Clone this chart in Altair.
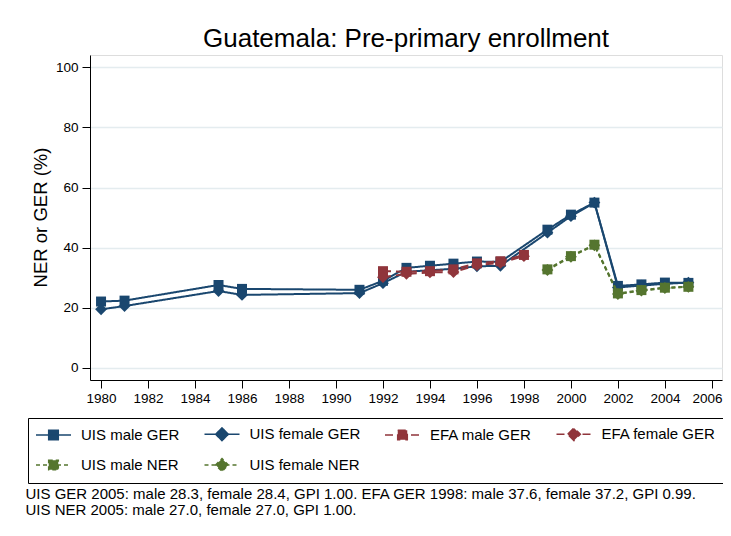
import altair as alt
import pandas as pd

# ---- data ----
years_uis_ger = [1980, 1981, 1985, 1986, 1991, 1992, 1993, 1994, 1995, 1996, 1997,
                 1999, 2000, 2001, 2002, 2003, 2004, 2005]
uis_male_ger = [22.1, 22.4, 27.6, 26.3, 26.0, 29.0, 33.3, 34.0, 34.7, 35.4, 35.3,
                46.0, 51.0, 55.0, 27.3, 27.8, 28.4, 28.3]
uis_female_ger = [19.5, 20.6, 25.6, 24.3, 24.9, 28.2, 32.0, 32.5, 33.0, 33.8, 34.0,
                  45.0, 50.5, 55.0, 26.8, 27.4, 28.0, 28.4]

years_efa = [1992, 1993, 1994, 1995, 1996, 1997, 1998]
efa_male_ger = [32.2, 32.0, 32.2, 32.8, 34.8, 35.5, 37.6]
efa_female_ger = [30.2, 31.3, 31.8, 31.9, 34.2, 35.0, 37.2]

years_ner = [1999, 2000, 2001, 2002, 2003, 2004, 2005]
uis_male_ner = [32.8, 37.2, 41.0, 24.8, 25.9, 26.7, 27.0]
uis_female_ner = [32.6, 37.0, 40.8, 24.6, 25.7, 26.6, 27.0]

series_names = ["UIS male GER", "UIS female GER", "EFA male GER",
                "EFA female GER", "UIS male NER", "UIS female NER"]
x_ticks = list(range(1980, 2007, 2))
y_ticks = [0, 20, 40, 60, 80, 100]
title_text = "Guatemala: Pre-primary enrollment"
y_title = "NER or GER (%)"
note_lines = [
    "UIS GER 2005: male 28.3, female 28.4, GPI 1.00. EFA GER 1998: male 37.6, female 37.2, GPI 0.99.",
    "UIS NER 2005: male 27.0, female 27.0, GPI 1.00.",
]

# ---- styles ----
colors = ["#1a476f", "#1a476f", "#90353b", "#90353b", "#55752f", "#55752f"]
dashes = [[1, 0], [1, 0], [8, 5], [8, 5], [4, 3], [4, 3]]
shapes = ["square", "diamond", "square", "diamond", "square", "diamond"]
sizes = [100, 140, 100, 140, 100, 140]
sq_path = "M-2.5,0H2.5M-0.68,-0.68H0.68V0.68H-0.68Z"
dm_path = "M-2.5,0H2.5M-0.9,0L0,-0.9L0.9,0L0,0.9Z"
legend_paths = [sq_path, dm_path, sq_path, dm_path, sq_path, dm_path]

rows = []
for name, yrs, vals in [
    ("UIS male GER", years_uis_ger, uis_male_ger),
    ("UIS female GER", years_uis_ger, uis_female_ger),
    ("EFA male GER", years_efa, efa_male_ger),
    ("EFA female GER", years_efa, efa_female_ger),
    ("UIS male NER", years_ner, uis_male_ner),
    ("UIS female NER", years_ner, uis_female_ner),
]:
    for yr, v in zip(yrs, vals):
        rows.append({"year": yr, "value": v, "series": name})
df = pd.DataFrame(rows)

FONT = "Liberation Sans"

x_enc = alt.X(
    "year:Q",
    scale=alt.Scale(domain=[1979.53, 2006.43], nice=False, zero=False),
    axis=alt.Axis(
        values=x_ticks, format="d", grid=False, title=note_lines,
        titleFontSize=15, titleFontWeight="normal", titleFont=FONT, titleColor="black",
        titleAnchor="start", titleAlign="left", titleBaseline="top",
        titleX=-65, titleY=106, titleLineHeight=16,
        labelFontSize=13.5, labelFont=FONT, labelColor="black", labelPadding=3,
        labelOffset={"condition": {"test": "datum.value == 2006", "value": -5}, "value": 0},
        tickSize=8, tickColor="black", domainColor="black", labelFlush=False,
    ),
)
y_enc = alt.Y(
    "value:Q",
    scale=alt.Scale(domain=[-4, 104.1], nice=False, zero=False),
    axis=alt.Axis(
        values=y_ticks, grid=True, gridColor="#e4ecef", gridWidth=1.5,
        title=y_title, titleFontSize=18.5, titleFontWeight="normal", titleFont=FONT,
        titleColor="black", titleX=-50, titleY=162, titleBaseline="middle",
        titleAlign="center", titleAngle=270,
        labelFontSize=13.5, labelFont=FONT, labelColor="black", labelPadding=4,
        tickSize=8, tickColor="black", domainColor="black",
    ),
)

base = alt.Chart(df)
layers = []
for i, s in enumerate(series_names):
    sub = base.transform_filter(alt.datum.series == s)
    layers.append(
        sub.mark_line(color=colors[i], strokeWidth=2, strokeDash=dashes[i]).encode(x=x_enc, y=y_enc)
    )
    layers.append(
        sub.mark_point(shape=shapes[i], filled=True, size=sizes[i], color=colors[i],
                       opacity=1, strokeWidth=0).encode(x=x_enc, y=y_enc)
    )

leg = alt.Legend(
    orient="none", legendX=-62, legendY=363, columns=4, direction="horizontal", title=None,
    labelFontSize=15, labelFont=FONT, labelColor="black",
    symbolSize=196, symbolStrokeWidth=1.6, symbolOffset=9.5, labelOffset=19.5,
    strokeColor="black", padding=8, rowPadding=11, columnPadding=20.5,
    gridAlign="each", labelLimit=300, symbolOpacity=1,
)
legend_layer = base.transform_filter("false").mark_point(opacity=1).encode(
    fill=alt.Fill("series:N", scale=alt.Scale(domain=series_names, range=colors), legend=leg),
    stroke=alt.Stroke("series:N", scale=alt.Scale(domain=series_names, range=colors), legend=leg),
    shape=alt.Shape("series:N", scale=alt.Scale(domain=series_names, range=legend_paths), legend=leg),
    strokeDash=alt.StrokeDash("series:N", scale=alt.Scale(domain=series_names, range=dashes), legend=leg),
)
layers.append(legend_layer)

chart = alt.layer(*layers).properties(
    width=632, height=325,
    title=alt.TitleParams(title_text, fontSize=26, font=FONT, fontWeight="normal",
                          color="black", anchor="middle", offset=3),
    autosize=alt.AutoSizeParams(type="none"),
    padding={"left": 82, "top": 47, "right": 1, "bottom": 140},
).configure_view(stroke=None).configure(background="white")

chart.save("out.html", embed_options={"renderer": "svg", "actions": False})
